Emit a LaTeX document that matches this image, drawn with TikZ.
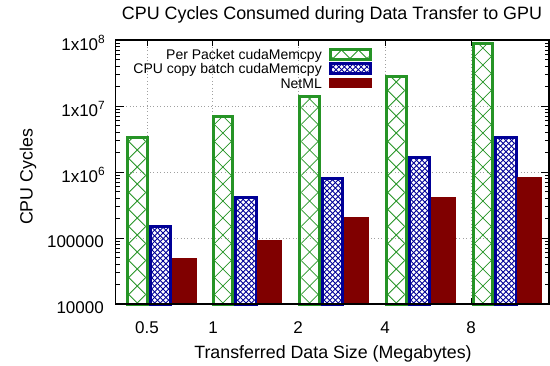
\documentclass[tikz,border=0pt]{standalone}
\usepackage{fontspec}
\setmainfont{Liberation Sans}
\definecolor{pktgreen}{RGB}{38,148,38}
\definecolor{cpublue}{RGB}{0,0,150}
\definecolor{netmlred}{RGB}{128,0,0}
\definecolor{gridgray}{RGB}{160,160,160}

\tikzset{
  gridline/.style={gridgray, line width=0.7pt, dash pattern=on 0.8pt off 2.6pt},
  frameline/.style={black, line width=1.1pt},
  tickline/.style={black, line width=0.8pt},
  greenedge/.style={pktgreen, line width=3pt},
  blueedge/.style={cpublue, line width=3pt},
  greenhatch/.style={pktgreen, line width=0.75pt},
  bluehatch/.style={cpublue, line width=0.9pt},
  redfill/.style={fill=netmlred, draw=none},
  ticklabel/.style={font=\fontsize{17}{17}\selectfont, inner sep=0pt},
  axislabel/.style={font=\fontsize{17.8}{17.8}\selectfont, inner sep=0pt},
  titlelabel/.style={font=\fontsize{17.9}{17.9}\selectfont, inner sep=0pt},
  keylabel/.style={font=\fontsize{14}{14}\selectfont, inner sep=0pt, anchor=east},
}

% diagonal cross-hatching inside a rectangle:
% #1 left, #2 right, #3 top, #4 bottom, #5 line spacing along x, #6 line style
\newcommand\hatchfill[6]{%
  \begin{scope}
    \clip (#1,#3) rectangle (#2,#4);
    \pgfmathsetmacro\hcx{(#1+#2)/2}
    \pgfmathtruncatemacro\hkmax{ceil(300/#5)+1}
    \foreach \k in {-\hkmax,...,\hkmax} {
      \draw[#6] (\hcx+\k*#5,#4) -- ++(300,-300);
      \draw[#6] (\hcx+\k*#5,#4) -- ++(-300,-300);
    }
  \end{scope}
}

% one group of three bars: #1 group left edge, #2..#4 log10 of the values
\newcommand\bargroup[4]{%
  \pgfmathsetmacro\ga{304-66*(#2-4)}
  \pgfmathsetmacro\gb{304-66*(#3-4)}
  \pgfmathsetmacro\gc{304-66*(#4-4)}
  % Per Packet cudaMemcpy
  \hatchfill{#1+3}{#1+19.5}{\ga+3}{303}{17}{greenhatch}
  \draw[greenedge] (#1+1.5,\ga+1.5) rectangle (#1+21,304.5);
  % CPU copy batch cudaMemcpy
  \hatchfill{#1+25.5}{#1+43}{\gb+3}{303}{5.6}{bluehatch}
  \draw[blueedge] (#1+24,\gb+1.5) rectangle (#1+44.5,304.5);
  % NetML
  \fill[redfill] (#1+45.7,\gc) rectangle (#1+70.7,305);
}

\begin{document}
\begin{tikzpicture}[x=1pt,y=-1pt]
  \useasboundingbox (0,0) rectangle (550,366);

  % grid
  \foreach \yv in {106,172,238}
    \draw[gridline] (116,\yv) -- (548,\yv);
  \foreach \xv in {147,212,298,385,471}
    \draw[gridline] (\xv,40) -- (\xv,304);

  % y ticks (log scale, left and right)
  \foreach \d in {0,...,3} {
    \foreach \m in {2,...,9} {
      \pgfmathsetmacro\ty{304-66*(\d+log10(\m))}
      \draw[tickline] (115.5,\ty) -- ++(4,0);
      \draw[tickline] (549,\ty) -- ++(-4,0);
    }
  }
  \foreach \d in {0,...,4} {
    \draw[tickline] (115.5,304-66*\d) -- ++(8,0);
    \draw[tickline] (549,304-66*\d) -- ++(-8,0);
  }
  % x ticks
  \foreach \xv in {147,212,298,385,471} {
    \draw[tickline] (\xv,40) -- ++(0,6);
    \draw[tickline] (\xv,304) -- ++(0,-6);
  }

  % bars
  \bargroup{126}{6.55}{5.20}{4.69}
  \bargroup{211.7}{6.86}{5.64}{4.97}
  \bargroup{298.3}{7.17}{5.93}{5.32}
  \bargroup{385}{7.47}{6.24}{5.62}
  \bargroup{471.7}{7.975}{6.545}{5.92}

  % frame
  \draw[frameline] (115.5,40) rectangle (549,304);

  % y tick labels
  \node[ticklabel, anchor=east] (y0) at (104,307.5) {10000};
  \node[ticklabel, anchor=east] (y1) at (104,241.5) {100000};
  \node[ticklabel, anchor=east] (y2) at (105.5,175) {1x10\textsuperscript{6}};
  \node[ticklabel, anchor=east] (y3) at (105.5,109) {1x10\textsuperscript{7}};
  \node[ticklabel, anchor=east] (y4) at (105.5,43) {1x10\textsuperscript{8}};

  % x tick labels
  \node[ticklabel] (x1) at (147,328) {0.5};
  \node[ticklabel] (x2) at (213,328) {1};
  \node[ticklabel] (x3) at (298,328) {2};
  \node[ticklabel] (x4) at (385,328) {4};
  \node[ticklabel] (x5) at (471,328) {8};

  % axis labels and title
  \node[axislabel] (xlab) at (333,354) {Transferred Data Size (Megabytes)};
  \node[axislabel, rotate=90] (ylab) at (28,177) {CPU Cycles};
  \node[titlelabel] (title) at (332,15) {CPU Cycles Consumed during Data Transfer to GPU};

  % key
  \node[keylabel] (k1) at (322,56) {Per Packet cudaMemcpy};
  \node[keylabel] (k2) at (322,70) {CPU copy batch cudaMemcpy};
  \node[keylabel] (k3) at (322,84) {NetML};
  \hatchfill{331.5}{368.5}{51.5}{58.5}{17}{greenhatch}
  \draw[greenedge] (330,50) rectangle (370,60);
  \hatchfill{331.5}{368.5}{65.5}{72.5}{5.6}{bluehatch}
  \draw[blueedge] (330,64) rectangle (370,74);
  \fill[redfill] (328.5,78) rectangle (371.5,88);
\end{tikzpicture}
\end{document}
